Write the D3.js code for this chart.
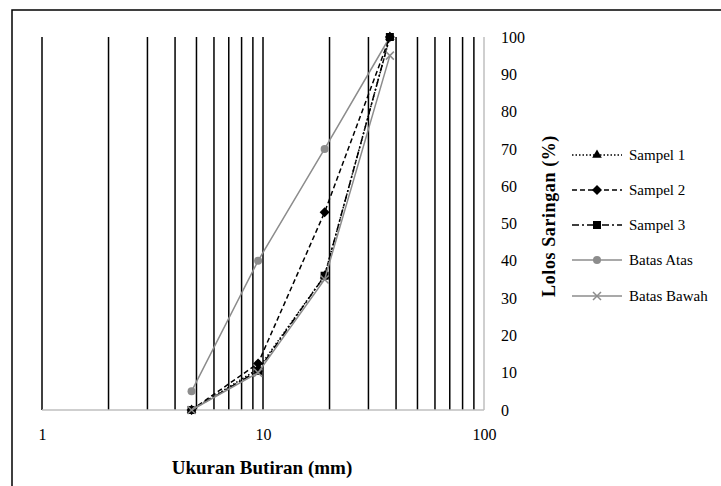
<!DOCTYPE html>
<html><head><meta charset="utf-8">
<script src="https://cdn.jsdelivr.net/npm/d3@7"></script>
<style>body{margin:0;background:#fff}svg{display:block}text{font-family:"Liberation Serif","Times New Roman",serif}</style>
</head><body>
<svg id="c" width="721" height="486"></svg>
<script>
const sizes = [4.75, 9.5, 19, 37.5];
const sampel1 = [0, 11, 36, 100];
const sampel2 = [0, 12.5, 53, 100];
const sampel3 = [0, 10.5, 36, 100];
const batasAtas = [5, 40, 70, 100];
const batasBawah = [0, 10, 35, 95];
const xTicks = [1, 10, 100];
const yTicks = [0,10,20,30,40,50,60,70,80,90,100];
const seriesNames = ["Sampel 1","Sampel 2","Sampel 3","Batas Atas","Batas Bawah"];

const svg = d3.select("#c");
svg.append("rect").attr("x",12).attr("y",10).attr("width",720).attr("height",490)
  .attr("fill","none").attr("stroke","#000").attr("stroke-width",1.5);

const x = d3.scaleLog().domain([1,100]).range([42,484]);
const y = d3.scaleLinear().domain([0,100]).range([410,37]);

const grid = [];
for (let d=1; d<100; d*=10) for (let k=1;k<10;k++) grid.push(d*k);
svg.append("g").selectAll("line").data(grid).join("line")
  .attr("x1",d=>x(d)).attr("x2",d=>x(d)).attr("y1",y(100)).attr("y2",y(0))
  .attr("stroke","#000").attr("stroke-width",1.5);
svg.append("line").attr("x1",x(100)).attr("x2",x(100)).attr("y1",y(100)).attr("y2",y(0))
  .attr("stroke","#bfbfbf").attr("stroke-width",1.5);
svg.append("line").attr("x1",x(1)).attr("x2",x(100)).attr("y1",y(0)).attr("y2",y(0))
  .attr("stroke","#bfbfbf").attr("stroke-width",1.5);

const yAxis = d3.axisRight(y).tickValues(yTicks).tickSize(0).tickPadding(17).tickFormat(d3.format("d"));
const ga = svg.append("g").attr("transform",`translate(${x(100)},0)`).call(yAxis);
ga.select(".domain").remove();
ga.selectAll("text").attr("font-size",16).attr("font-family","Liberation Serif").attr("fill","#000");
const xAxis = d3.axisBottom(x).tickValues(xTicks).tickSize(0).tickPadding(19).tickFormat(d3.format("d"));
const gx = svg.append("g").attr("transform",`translate(0,${y(0)})`).call(xAxis);
gx.select(".domain").remove();
gx.selectAll("text").attr("font-size",16).attr("font-family","Liberation Serif").attr("fill","#000");

svg.append("text").attr("x",262).attr("y",474).attr("text-anchor","middle")
  .attr("font-size",19).attr("font-weight","bold").text("Ukuran Butiran (mm)");
svg.append("text").attr("transform","translate(555,216) rotate(-90)").attr("text-anchor","middle")
  .attr("font-size",18).attr("font-weight","bold").attr("letter-spacing",0.6).text("Lolos Saringan (%)");

const styles = [
  {data:sampel1, color:"#000", dash:"1.5,2", marker:"tri", w:1.5},
  {data:sampel2, color:"#000", dash:"5,3", marker:"dia", w:1.5},
  {data:sampel3, color:"#000", dash:"7,3,2,3", marker:"sq", w:1.5},
  {data:batasAtas, color:"#8c8c8c", dash:null, marker:"cir", w:1.5},
  {data:batasBawah, color:"#8c8c8c", dash:null, marker:"x", w:1.5}
];
const line = d3.line().x(d=>x(d[0])).y(d=>y(d[1]));
function marker(g, type, cx, cy, color){
  if(type==="tri") g.append("path").attr("d",d3.symbol(d3.symbolTriangle,40)()).attr("transform",`translate(${cx},${cy})`).attr("fill",color);
  else if(type==="dia") g.append("path").attr("d",`M${cx},${cy-5}L${cx+5},${cy}L${cx},${cy+5}L${cx-5},${cy}Z`).attr("fill",color);
  else if(type==="sq") g.append("rect").attr("x",cx-4).attr("y",cy-4).attr("width",8).attr("height",8).attr("fill",color);
  else if(type==="cir") g.append("circle").attr("cx",cx).attr("cy",cy).attr("r",4).attr("fill",color);
  else if(type==="x") g.append("path").attr("d",`M${cx-4},${cy-4}L${cx+4},${cy+4}M${cx-4},${cy+4}L${cx+4},${cy-4}`).attr("stroke",color).attr("stroke-width",1.5);
}
const drawOrder=[3,2,1,0,4];
drawOrder.forEach(i=>{
  const s=styles[i];
  const pts = sizes.map((v,j)=>[v,s.data[j]]);
  const g=svg.append("g");
  g.append("path").attr("d",line(pts)).attr("fill","none").attr("stroke",s.color)
    .attr("stroke-width",s.w).attr("stroke-dasharray",s.dash);
  pts.forEach(p=>marker(g,s.marker,x(p[0]),y(p[1]),s.color));
});

const ly=[155,190,225,260,296];
styles.forEach((s,i)=>{
  const g=svg.append("g");
  g.append("line").attr("x1",572).attr("x2",622).attr("y1",ly[i]).attr("y2",ly[i])
    .attr("stroke",s.color).attr("stroke-width",s.w).attr("stroke-dasharray",s.dash);
  marker(g,s.marker,597,ly[i],s.color);
  g.append("text").attr("x",629).attr("y",ly[i]+5).attr("font-size",15).text(seriesNames[i]);
});
</script>
</body></html>
